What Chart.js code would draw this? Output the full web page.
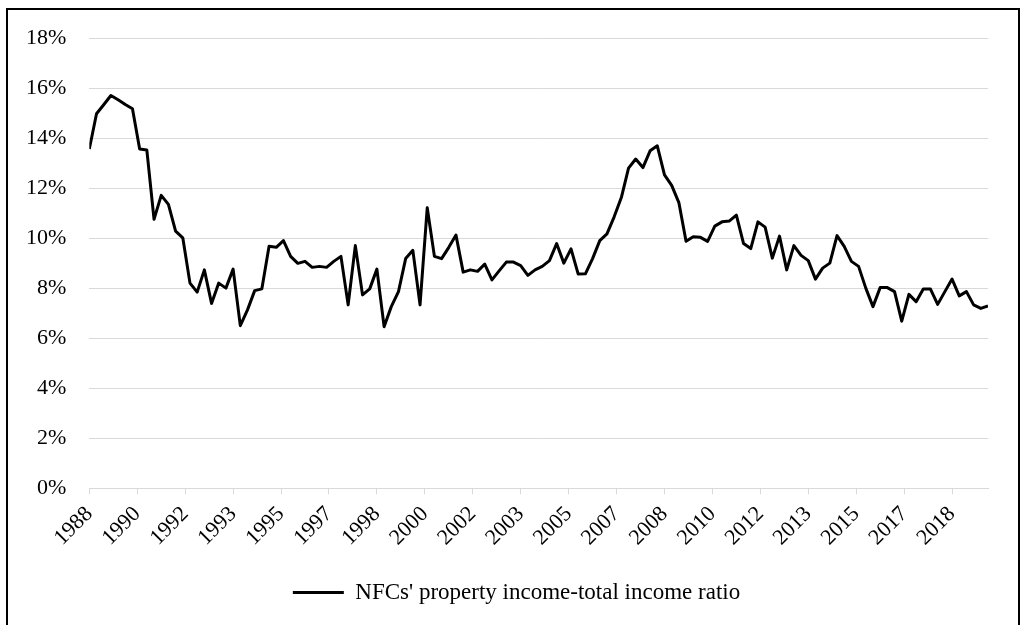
<!DOCTYPE html>
<html>
<head>
<meta charset="utf-8">
<script src="https://cdn.jsdelivr.net/npm/chart.js@4"></script>
<style>
html,body{margin:0;padding:0;background:#fff;overflow:hidden;}
#frame{position:absolute;left:6px;top:8px;width:1010px;height:640px;border:2px solid #000;}
#wrap{position:absolute;left:0;top:0;width:1022px;height:625px;}
</style>
</head>
<body>
<div id="frame"></div>
<div id="wrap"><canvas id="ratioChart"></canvas></div>
<script>
// ========================================
// Data (quarterly, first point = Dec 1988)
// ========================================

const seriesName = "NFCs' property income-total income ratio";

const monthsPerPoint = 3;

const ratio = [
13.56,14.97,15.33,15.70,15.53,15.34,15.17,13.56,13.52,10.75,
11.71,11.35,10.28,10.01,8.20,7.84,8.73,7.39,8.20,8.00,
8.76,6.50,7.13,7.90,7.97,9.67,9.63,9.90,9.27,8.99,
9.07,8.83,8.87,8.83,9.07,9.27,7.33,9.70,7.73,7.97,
8.76,6.46,7.26,7.86,9.18,9.51,7.33,11.21,9.27,9.18,
9.63,10.12,8.64,8.73,8.67,8.96,8.33,8.69,9.04,9.04,
8.90,8.51,8.73,8.87,9.10,9.78,9.00,9.57,8.56,8.57,
9.18,9.90,10.17,10.85,11.62,12.80,13.16,12.82,13.49,13.69,
12.53,12.11,11.42,9.87,10.05,10.03,9.87,10.48,10.65,10.68,
10.92,9.78,9.58,10.65,10.44,9.20,10.08,8.73,9.70,9.31,
9.10,8.36,8.80,9.00,10.10,9.67,9.07,8.87,8.00,7.26,
8.02,8.02,7.86,6.68,7.75,7.46,7.96,7.96,7.35,7.86,
8.36,7.69,7.86,7.33,7.19,7.29
];

// one label every 20 months
const xTickStep = 20;
const xTickLabels = [
"1988","1990","1992","1993","1995","1997","1998","2000","2002","2003",
"2005","2007","2008","2010","2012","2013","2015","2017","2018"
];

const yTicks = [0,2,4,6,8,10,12,14,16,18];

// ========================================
// Chart
// ========================================

Chart.defaults.font.family = "'Liberation Serif', 'Times New Roman', serif";
Chart.defaults.font.size = 22;
Chart.defaults.color = "#000";

const gridGrey = "#d9d9d9";

// nudge the legend to where the original sits
const legendShift = {
id:"legendShift",
afterLayout(chart){
chart.legend.left += 21;
chart.legend.right += 21;
}
};

new Chart(

document.getElementById("ratioChart"),

{

type:"line",

data:{

datasets:[{

label:seriesName,

data:ratio.map((v,i)=>({x:i*monthsPerPoint,y:v})),

borderColor:"#000",

backgroundColor:"#000",

borderWidth:3,

borderJoinStyle:"round",

pointRadius:0,

pointStyle:"line",

tension:0

}]

},

options:{

responsive:true,

maintainAspectRatio:false,

animation:false,

layout:{padding:{left:3,right:34,top:38,bottom:11}},

plugins:{

legend:{

position:"bottom",

labels:{usePointStyle:true,pointStyleWidth:51,padding:13,font:{size:23}}

},

tooltip:{enabled:false}

},

scales:{

x:{

type:"linear",

min:0,

max:(ratio.length-1)*monthsPerPoint,

afterBuildTicks:axis=>{
axis.ticks = xTickLabels.map((_,k)=>({value:k*xTickStep}));
},

afterFit:axis=>{
axis.height += 10;
},

grid:{drawOnChartArea:false,drawTicks:true,tickLength:6,color:gridGrey},

border:{color:gridGrey},

ticks:{autoSkip:false,maxRotation:45,minRotation:45,padding:7,

callback:v=>xTickLabels[Math.round(v/xTickStep)]}

},

y:{

min:yTicks[0],

max:yTicks[yTicks.length-1],

afterBuildTicks:axis=>{
axis.ticks = yTicks.map(v=>({value:v}));
},

grid:{color:gridGrey,drawTicks:false},

border:{display:false},

ticks:{padding:23,callback:v=>v+"%"}

}

}

},

plugins:[legendShift]

}

);
</script>
</body>
</html>
